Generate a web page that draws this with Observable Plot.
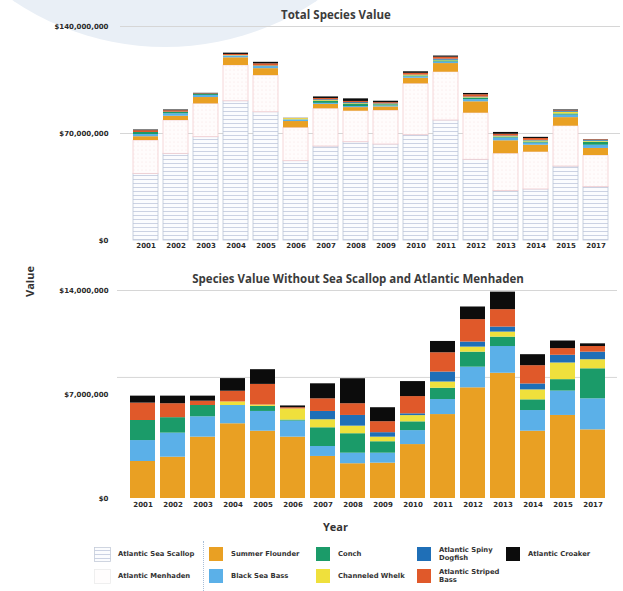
<!DOCTYPE html>
<html>
<head>
<meta charset="utf-8">
<script src="https://cdn.jsdelivr.net/npm/d3@7"></script>
<script src="https://cdn.jsdelivr.net/npm/@observablehq/plot@0.6"></script>
<style>
html,body{margin:0;padding:0;background:#fff;}
#wrap{position:relative;width:623px;height:591px;overflow:hidden;}
#circle{position:absolute;left:-107px;top:-497px;width:544px;height:544px;border-radius:50%;background:#e9eff6;}
.abs{position:absolute;}
.title{font-family:"Open Sans",sans-serif;font-weight:700;font-size:11.5px;color:#3b3b3b;text-align:center;white-space:nowrap;}
.axlab{font-family:"Open Sans",sans-serif;font-weight:700;font-size:11px;color:#333;}
.lg{font-family:"DejaVu Sans",sans-serif;font-weight:700;font-size:6.8px;color:#333;line-height:7.5px;white-space:nowrap;}
.sw{position:absolute;width:14px;height:14px;}
</style>
</head>
<body>
<div id="wrap">
  <div id="circle"></div>
  <div id="top" class="abs" style="left:0;top:0;"></div>
  <div id="bottom" class="abs" style="left:0;top:260px;"></div>
  <div class="abs title" style="left:136px;width:400px;top:7px;">Total Species Value</div>
  <div class="abs title" style="left:108px;width:500px;top:271px;">Species Value Without Sea Scallop and Atlantic Menhaden</div>
  <div class="abs axlab" style="left:323px;top:519px;">Year</div>
  <div class="abs axlab" style="left:22px;top:297px;transform:rotate(-90deg);transform-origin:left top;width:40px;">Value</div>
  <div id="legend"></div>
</div>
<script>
// ---- data (values in millions of dollars) ----
const years = ["2001","2002","2003","2004","2005","2006","2007","2008","2009","2010","2011","2012","2013","2014","2015","2017"];
const seaScallop   = [43.6, 56.7, 67.6, 91.1, 83.9, 51.9, 61.5, 64.3, 62.8, 68.9, 78.5, 52.8, 32.3, 33.4, 48.4, 34.9];
const menhaden     = [21.8, 21.8, 21.8, 23.4, 24.0, 21.8, 24.7, 20.3, 22.2, 33.6, 31.6, 30.5, 24.5, 24.4, 26.4, 20.7];
const flounder     = [2.49, 2.78, 4.13, 5.03, 4.53, 4.13, 2.83, 2.34, 2.38, 3.63, 5.65, 7.45, 8.43, 4.53, 5.59, 4.62];
const blackSeaBass = [1.41, 1.62, 1.37, 1.23, 1.33, 1.08, 0.67, 0.71, 0.67, 0.94, 1.01, 1.39, 1.80, 1.39, 1.64, 2.09];
const conch        = [1.35, 1.04, 0.76, 0.00, 0.34, 0.07, 1.26, 1.31, 0.77, 0.59, 0.76, 1.01, 0.63, 0.72, 0.77, 2.02];
const whelk        = [0.00, 0.00, 0.00, 0.24, 0.09, 0.75, 0.54, 0.51, 0.31, 0.42, 0.42, 0.34, 0.34, 0.67, 1.12, 0.61];
const dogfish      = [0.00, 0.00, 0.00, 0.00, 0.00, 0.00, 0.56, 0.72, 0.30, 0.12, 0.67, 0.34, 0.34, 0.40, 0.52, 0.51];
const stripedBass  = [1.17, 0.94, 0.29, 0.72, 1.39, 0.08, 0.85, 0.79, 0.74, 1.16, 1.30, 1.51, 1.17, 1.23, 0.45, 0.38];
const croaker      = [0.47, 0.51, 0.34, 0.85, 0.99, 0.12, 1.01, 1.68, 0.94, 1.01, 0.76, 0.85, 1.18, 0.74, 0.51, 0.18];

const species = ["Atlantic Sea Scallop","Atlantic Menhaden","Summer Flounder","Black Sea Bass","Conch","Channeled Whelk","Atlantic Spiny Dogfish","Atlantic Striped Bass","Atlantic Croaker"];
const speciesFill = ["url(#pScallop)","url(#pMenhaden)","#e9a023","#5bb0e8","#1b9b69","#efe03c","#1f6fb7","#e0592a","#0c0c0c"];
const speciesStroke = ["#bcc6d8","#f3cdd0","none","none","none","none","none","none","none"];
const topTicks = [0, 70e6, 140e6];
const bottomTicks = [0, 7e6, 14e6];
const topGrid = [70e6, 140e6];
const bottomGrid = [8.15e6, 14e6];

const series = [seaScallop, menhaden, flounder, blackSeaBass, conch, whelk, dogfish, stripedBass, croaker];
const rows = species.flatMap((s, k) => years.map((y, i) => ({
  year: y, species: s, value: series[k][i] * 1e6, fill: speciesFill[k], stroke: speciesStroke[k]
})));
const smallRows = rows.filter(d => d.species !== "Atlantic Sea Scallop" && d.species !== "Atlantic Menhaden");

const fmt = d => "$" + d3.format(",")(d);
const baseStyle = {fontFamily: "DejaVu Sans, sans-serif", fontWeight: "bold", fontSize: "7px", color: "#2a2a2a", background: "transparent", overflow: "visible"};

const topPlot = Plot.plot({
  width: 623, height: 256,
  marginTop: 26, marginBottom: 16, marginLeft: 120, marginRight: 3,
  x: {type: "band", domain: years, padding: 0.18},
  y: {domain: [0, 140e6]},
  color: {type: "identity"},
  style: baseStyle,
  marks: [
    Plot.ruleY(topGrid, {stroke: "#d6d6d6", strokeWidth: 1}),
    Plot.barY(rows, {x: "year", y: "value", z: "species", fill: "fill", stroke: "stroke", strokeWidth: 0.8}),
    Plot.axisX({tickSize: 0, tickPadding: 3, label: null}),
    Plot.axisY({ticks: topTicks, tickFormat: fmt, tickSize: 0, tickPadding: 12, label: null})
  ]
});
const ns = "http://www.w3.org/2000/svg";
const defs = document.createElementNS(ns, "defs");
defs.innerHTML = `
<pattern id="pScallop" patternUnits="userSpaceOnUse" width="6" height="4">
  <rect width="6" height="4" fill="#fbfcfe"/>
  <line x1="0" y1="3.5" x2="6" y2="3.5" stroke="#c5cde0" stroke-width="0.9"/>
</pattern>
<pattern id="pMenhaden" patternUnits="userSpaceOnUse" width="4" height="4">
  <rect width="4" height="4" fill="#fffcfc"/>
  <circle cx="2" cy="2" r="0.5" fill="#f8dde0"/>
</pattern>`;
topPlot.insertBefore(defs, topPlot.firstChild);
document.getElementById("top").appendChild(topPlot);

const bottomPlot = Plot.plot({
  width: 623, height: 256,
  marginTop: 30, marginBottom: 18, marginLeft: 117, marginRight: 6,
  x: {type: "band", domain: years, padding: 0.18},
  y: {domain: [0, 14e6]},
  color: {type: "identity"},
  style: baseStyle,
  marks: [
    Plot.ruleY(bottomGrid, {stroke: "#d6d6d6", strokeWidth: 1}),
    Plot.barY(smallRows, {x: "year", y: "value", z: "species", fill: "fill"}),
    Plot.axisX({tickSize: 0, tickPadding: 4, label: null}),
    Plot.axisY({ticks: bottomTicks, tickFormat: fmt, tickSize: 0, tickPadding: 9, label: null})
  ]
});
document.getElementById("bottom").appendChild(bottomPlot);

// ---- legend ----
const legendItems = [
  {k: 0, x: 94, row: 0, label: "Atlantic Sea Scallop"},
  {k: 1, x: 94, row: 1, label: "Atlantic Menhaden"},
  {k: 2, x: 209, row: 0, label: "Summer Flounder"},
  {k: 3, x: 209, row: 1, label: "Black Sea Bass"},
  {k: 4, x: 316, row: 0, label: "Conch"},
  {k: 5, x: 316, row: 1, label: "Channeled Whelk"},
  {k: 6, x: 417, row: 0, label: "Atlantic Spiny<br>Dogfish"},
  {k: 7, x: 417, row: 1, label: "Atlantic Striped<br>Bass"},
  {k: 8, x: 506, row: 0, label: "Atlantic Croaker"}
];
const lg = document.getElementById("legend");
const rowTop = [547, 569];
let html = `<div class="abs" style="left:203px;top:541px;height:50px;border-left:1px dotted #a9bfd8;"></div>`;
for (const it of legendItems) {
  const t = rowTop[it.row];
  let sw;
  if (it.k === 0) {
    sw = `<svg class="abs" style="left:${it.x}px;top:${t}px;" width="17" height="15"><rect x="0.5" y="0.5" width="16" height="14" fill="url(#pScallop)" stroke="#c4cbd9" stroke-width="0.8"/></svg>`;
  } else if (it.k === 1) {
    sw = `<svg class="abs" style="left:${it.x}px;top:${t}px;" width="17" height="15"><rect x="0.5" y="0.5" width="16" height="14" fill="#fffdfd" stroke="#ececec" stroke-width="0.8"/></svg>`;
  } else {
    sw = `<div class="sw" style="left:${it.x}px;top:${t}px;background:${speciesFill[it.k]};"></div>`;
  }
  const tx = it.x + (it.k < 2 ? 24 : 22);
  const two = it.label.includes("<br>");
  const ty = two ? t : t + 4;
  html += sw + `<div class="abs lg" style="left:${tx}px;top:${ty}px;">${it.label}</div>`;
}
lg.innerHTML = html;
</script>
</body>
</html>
